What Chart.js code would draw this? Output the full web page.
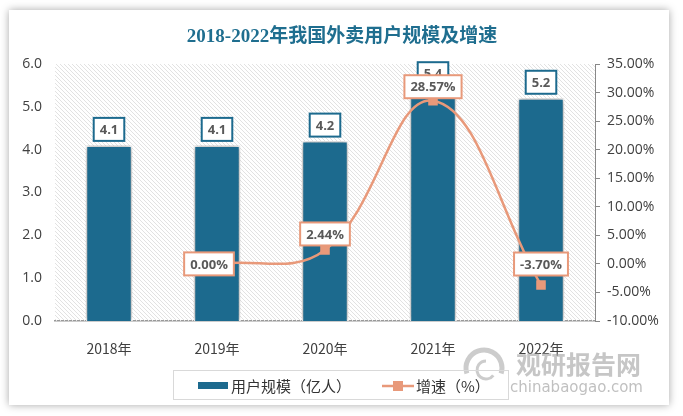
<!DOCTYPE html>
<html>
<head>
<meta charset="utf-8">
<script src="https://cdn.jsdelivr.net/npm/chart.js@4"></script>
<style>
  body { margin: 0; background: #fff; }
  #card { position: absolute; left: 9px; top: 10px; width: 660px; height: 395px; background: #fff; box-shadow: 0 0 8px rgba(0,0,0,0.35); }
  #myChart { position: absolute; left: 0; top: 0; }
</style>
</head>
<body>
<div id="card"></div>
<canvas id="myChart" width="683" height="416"></canvas>
<script>
const years = ['2018年', '2019年', '2020年', '2021年', '2022年'];
const users = [4.1, 4.1, 4.2, 5.4, 5.2];
const growth = [null, 0.00, 2.44, 28.57, -3.70];
const userLabel = '用户规模（亿人）';
const growthLabel = '增速（%）';

const BLUE = '#1c6a8e';
const ORANGE = '#e8997a';
const TXT = '#404040';
const tickFont = { family: "'Open Sans', 'Noto Sans CJK SC'", size: 14 };

// how far above each point the growth label sits
const lineLabelLift = [0, 0, 16, 14, 21];

// diagonal hatch for the plot area
const hatch = (function(){
  const c = document.createElement('canvas');
  c.width = 4; c.height = 4;
  const g = c.getContext('2d');
  g.strokeStyle = '#e2e2e2';
  g.lineWidth = 1;
  g.beginPath();
  g.moveTo(-1, -1); g.lineTo(5, 5);
  g.moveTo(-1, 3); g.lineTo(1, 5);
  g.moveTo(3, -1); g.lineTo(5, 1);
  g.stroke();
  return g.createPattern(c, 'repeat');
})();

function labelBox(ctx, text, cx, cy, border) {
  ctx.save();
  ctx.font = "bold 13px 'Open Sans', sans-serif";
  const w = ctx.measureText(text).width + 12;
  const h = 23;
  ctx.fillStyle = '#fff';
  ctx.fillRect(cx - w/2, cy - h/2, w, h);
  ctx.strokeStyle = border;
  ctx.lineWidth = 2;
  ctx.strokeRect(cx - w/2, cy - h/2, w, h);
  ctx.fillStyle = '#595959';
  ctx.textAlign = 'center';
  ctx.textBaseline = 'middle';
  ctx.fillText(text, cx, cy + 1);
  ctx.restore();
}

const decor = {
  id: 'decor',
  beforeDatasetsDraw(chart) {
    const a = chart.chartArea, ctx = chart.ctx;
    ctx.save();
    ctx.fillStyle = hatch;
    ctx.fillRect(a.left, a.top, a.right - a.left, a.bottom - a.top);
    ctx.restore();
  },
  beforeDatasetDraw(chart, args) {
    if (args.index === 0) {
      const ctx = chart.ctx;
      ctx.save();
      ctx.shadowColor = 'rgba(0,0,0,0.45)';
      ctx.shadowBlur = 6;
    }
  },
  afterDatasetDraw(chart, args) {
    const ctx = chart.ctx;
    if (args.index === 0) {
      ctx.restore();
      chart.getDatasetMeta(0).data.forEach(function(bar, i){
        labelBox(ctx, users[i].toFixed(1), bar.x, bar.y - 16, BLUE);
      });
    }
  },
  afterDatasetsDraw(chart) {
    const ctx = chart.ctx;
    chart.getDatasetMeta(1).data.forEach(function(pt, i){
      if (growth[i] === null) return;
      labelBox(ctx, growth[i].toFixed(2) + '%', pt.x - (i === 1 ? 8 : 0), pt.y - lineLabelLift[i], ORANGE);
    });
  },
  afterDraw(chart) {
    const ctx = chart.ctx;
    ctx.save();
    // title
    ctx.font = "bold 19px 'Liberation Serif', 'Noto Sans CJK SC', serif";
    ctx.fillStyle = '#1f6e8f';
    ctx.textAlign = 'center';
    ctx.textBaseline = 'middle';
    ctx.fillText('2018-2022年我国外卖用户规模及增速', 342, 37);

    // watermark
    ctx.strokeStyle = 'rgba(170,170,170,0.6)';
    ctx.lineWidth = 5;
    ctx.beginPath(); ctx.arc(484, 368, 18, Math.PI * 0.9, Math.PI * 2.1); ctx.stroke();
    ctx.lineWidth = 3;
    ctx.beginPath(); ctx.arc(486, 370, 9, Math.PI * 0.2, Math.PI * 1.5); ctx.stroke();
    ctx.fillStyle = 'rgba(160,160,160,0.6)';
    ctx.font = "bold 25px 'Noto Sans CJK SC', sans-serif";
    ctx.textAlign = 'left';
    ctx.fillText('观研报告网', 516, 364);
    ctx.font = "15px 'DejaVu Sans', sans-serif";
    ctx.fillStyle = 'rgba(150,150,150,0.6)';
    ctx.fillText('chinabaogao.com', 510, 388);

    // legend
    ctx.strokeStyle = '#d9d9d9';
    ctx.lineWidth = 1;
    ctx.strokeRect(173.5, 370.5, 335, 29);
    ctx.fillStyle = BLUE;
    ctx.fillRect(198, 382, 30, 7);
    ctx.fillStyle = '#333';
    ctx.font = "15px 'Noto Sans CJK SC', sans-serif";
    ctx.textBaseline = 'middle';
    ctx.fillText(userLabel, 231, 386);
    ctx.strokeStyle = ORANGE;
    ctx.lineWidth = 2.5;
    ctx.beginPath(); ctx.moveTo(382, 386); ctx.lineTo(414, 386); ctx.stroke();
    ctx.fillStyle = ORANGE;
    ctx.fillRect(393, 381, 10, 10);
    ctx.fillStyle = '#333';
    ctx.fillText(growthLabel, 416, 386);
    ctx.restore();
  }
};

new Chart(document.getElementById('myChart'), {
  type: 'bar',
  data: {
    labels: years,
    datasets: [{
      type: 'bar',
      label: userLabel,
      data: users,
      yAxisID: 'y',
      backgroundColor: BLUE,
      borderColor: '#fff',
      borderWidth: 1.5,
      categoryPercentage: 1,
      barPercentage: 0.43,
      order: 1
    }, {
      type: 'line',
      label: growthLabel,
      data: growth,
      yAxisID: 'y1',
      borderColor: ORANGE,
      borderWidth: 2.5,
      tension: 0.4,
      pointStyle: 'rect',
      pointRadius: 5,
      pointBackgroundColor: ORANGE,
      pointBorderColor: ORANGE,
      order: 0
    }]
  },
  options: {
    responsive: false,
    animation: false,
    layout: { padding: { top: 64, left: 0, right: 0, bottom: 0 } },
    plugins: { legend: { display: false }, title: { display: false }, tooltip: { enabled: false } },
    scales: {
      x: {
        grid: { display: false, drawTicks: false },
        border: { display: true, color: '#999', width: 1.5 },
        ticks: { color: TXT, font: { family: "'Noto Sans CJK SC', sans-serif", size: 14 }, padding: 19 },
        afterFit(s) { s.height = 95; }
      },
      y: {
        position: 'left',
        min: 0, max: 6,
        grid: { display: false, drawTicks: false },
        border: { display: false },
        ticks: { stepSize: 1, color: TXT, font: tickFont, padding: 13, callback: v => v.toFixed(1) },
        afterFit(s) { s.width = 55; }
      },
      y1: {
        position: 'right',
        min: -10, max: 35,
        grid: { drawOnChartArea: false, drawTicks: true, tickLength: 5, color: '#888' },
        border: { display: true, color: '#888' },
        ticks: { stepSize: 5, color: TXT, font: tickFont, padding: 7, callback: v => v.toFixed(2) + '%' },
        afterFit(s) { s.width = 88; }
      }
    }
  },
  plugins: [decor]
});
</script>
</body>
</html>
